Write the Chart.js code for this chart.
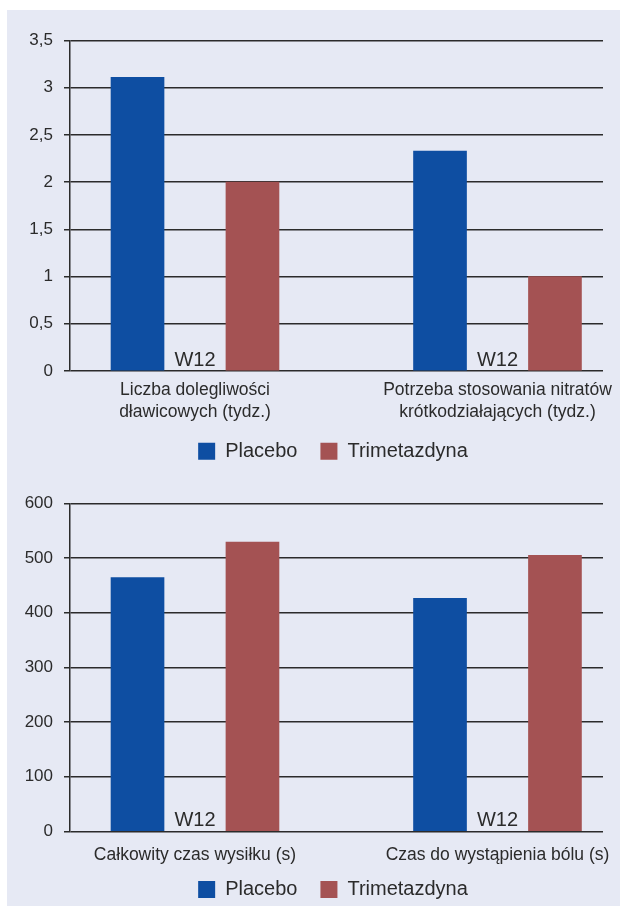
<!DOCTYPE html>
<html>
<head>
<meta charset="utf-8">
<script src="https://cdn.jsdelivr.net/npm/chart.js@4"></script>
<style>
  html, body { margin: 0; padding: 0; background: #ffffff; width: 620px; height: 907px; overflow: hidden; }
  #panel { position: absolute; left: 7px; top: 10px; width: 613px; height: 896px; background: #e6e9f4; }
  .holder { position: absolute; left: 7px; }
  .holder canvas { display: block; }
</style>
</head>
<body>
<div id="panel"></div>
<div class="holder" style="top:10px"><canvas id="symptoms" width="613" height="480"></canvas></div>
<div class="holder" style="top:490px"><canvas id="exercise" width="613" height="440"></canvas></div>
<script>
// Series shared by both panels
const seriesNames = ['Placebo', 'Trimetazdyna'];
const seriesColors = ['#0e4ea2', '#a45253'];
const periodLabel = 'W12';

// Upper panel: weekly angina episodes and short-acting nitrate use
const symptomCategories = [
  ['Liczba dolegliwości', 'dławicowych (tydz.)'],
  ['Potrzeba stosowania nitratów', 'krótkodziałających (tydz.)']
];
const symptomPlacebo = [3.11, 2.33];
const symptomTrimetazidine = [2.0, 1.0];
const symptomTicks = [0, 0.5, 1, 1.5, 2, 2.5, 3, 3.5];

// Lower panel: exercise test times in seconds
const exerciseCategories = ['Całkowity czas wysiłku (s)', 'Czas do wystąpienia bólu (s)'];
const exercisePlacebo = [464, 426];
const exerciseTrimetazidine = [529, 505];
const exerciseTicks = [0, 100, 200, 300, 400, 500, 600];

const FONT = '"Liberation Sans", Arial, sans-serif';
const TEXT = '#2b2b2b';
const LINE = '#2b2b2b';
Chart.defaults.font.family = FONT;
Chart.defaults.color = TEXT;

// Bars sit on a linear x scale: each group at its index, the two series
// spread symmetrically around it.
const barSpread = 0.19;
const xRange = { min: -0.4132, max: 1.3488 };

// "W12" written between the two bars of each group, just above the baseline
const periodLabelPlugin = {
  id: 'periodLabel',
  afterDatasetsDraw(chart, args, opts) {
    const { ctx, scales: { x, y } } = chart;
    ctx.save();
    ctx.font = '20px ' + FONT;
    ctx.fillStyle = TEXT;
    ctx.textAlign = 'center';
    ctx.textBaseline = 'alphabetic';
    for (let i = 0; i < opts.count; i++) {
      ctx.fillText(periodLabel, x.getPixelForValue(i), y.getPixelForValue(0) - 5);
    }
    ctx.restore();
  }
};

// Places the legend row under the category labels, centred under the bars
const legendPlacePlugin = {
  id: 'legendPlace',
  afterLayout(chart, args, opts) {
    const lg = chart.legend;
    if (!lg) return;
    const h = lg.height;
    lg.top = opts.top;
    lg.bottom = opts.top + h;
    lg.left += opts.dx;
    lg.right += opts.dx;
  }
};

function buildChart(id, categories, valueSets, ticks, geo) {
  const datasets = valueSets.map((values, s) => ({
    label: seriesNames[s],
    backgroundColor: seriesColors[s],
    borderWidth: 0,
    grouped: false,
    barThickness: 53,
    data: values.map((v, i) => ({ x: i + (s === 0 ? -barSpread : barSpread), y: v }))
  }));

  return new Chart(document.getElementById(id), {
    type: 'bar',
    data: { datasets },
    plugins: [periodLabelPlugin, legendPlacePlugin],
    options: {
      responsive: false,
      animation: false,
      events: [],
      layout: { padding: { top: geo.top, left: 0, right: 17, bottom: 0 } },
      scales: {
        x: {
          type: 'linear',
          min: xRange.min,
          max: xRange.max,
          offset: false,
          grid: { display: false, drawTicks: false, offset: false },
          border: { display: false },
          afterBuildTicks: (scale) => { scale.ticks = categories.map((_, i) => ({ value: i })); },
          afterFit: (scale) => {
            scale.height = geo.xHeight;
            scale.paddingLeft = 0;
            scale.paddingRight = 0;
          },
          ticks: {
            autoSkip: false,
            maxRotation: 0,
            padding: geo.xPad,
            color: TEXT,
            font: { size: 17.5, lineHeight: 1.25 },
            callback: (v) => categories[v]
          }
        },
        y: {
          type: 'linear',
          min: ticks[0],
          max: ticks[ticks.length - 1],
          afterBuildTicks: (scale) => { scale.ticks = ticks.map(v => ({ value: v })); },
          afterFit: (scale) => {
            scale.width = 63;
            scale.paddingTop = 0;
            scale.paddingBottom = 0;
          },
          grid: { color: LINE, lineWidth: 1.5, tickLength: 6, drawTicks: true, tickColor: LINE },
          border: { display: true, color: LINE, width: 1.5 },
          ticks: {
            padding: 11,
            color: TEXT,
            font: { size: 17 },
            callback: (v) => String(v).replace('.', ',')
          }
        }
      },
      plugins: {
        periodLabel: { count: categories.length },
        legendPlace: { top: geo.legendTop, dx: 28 },
        tooltip: { enabled: false },
        legend: {
          position: 'bottom',
          align: 'center',
          labels: {
            boxWidth: 17,
            boxHeight: 17,
            padding: 23,
            color: TEXT,
            font: { size: 20 }
          }
        }
      }
    }
  });
}

buildChart('symptoms', symptomCategories, [symptomPlacebo, symptomTrimetazidine], symptomTicks,
  { top: 30.5, xHeight: 66, xPad: 8, legendTop: 408.3 });
buildChart('exercise', exerciseCategories, [exercisePlacebo, exerciseTrimetazidine], exerciseTicks,
  { top: 13.3, xHeight: 45.7, xPad: 13, legendTop: 366.5 });
</script>
</body>
</html>
